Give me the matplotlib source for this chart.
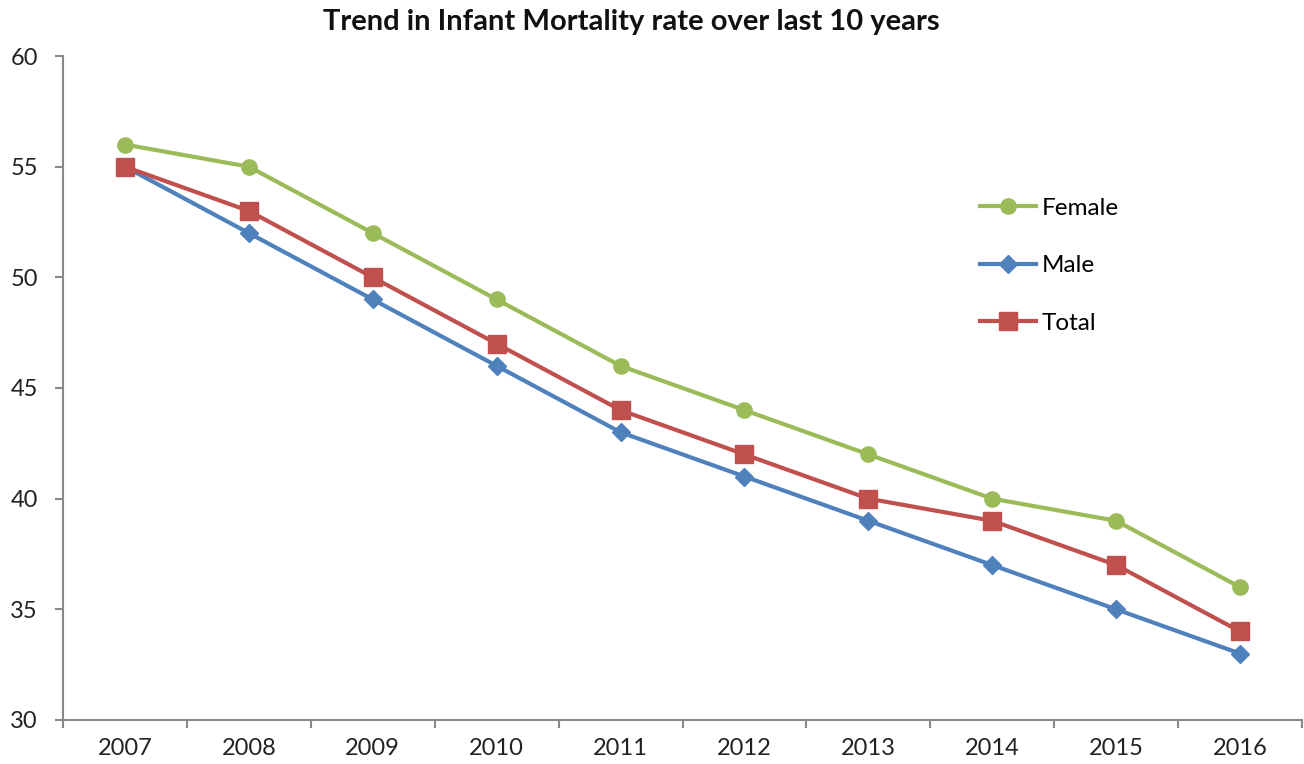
import matplotlib.pyplot as plt
import numpy as np
from matplotlib.ticker import FixedLocator

plt.rcParams['font.family'] = ['Lato', 'DejaVu Sans']

years = ['2007', '2008', '2009', '2010', '2011', '2012', '2013', '2014', '2015', '2016']
female = [56, 55, 52, 49, 46, 44, 42, 40, 39, 36]
male = [55, 52, 49, 46, 43, 41, 39, 37, 35, 33]
total = [55, 53, 50, 47, 44, 42, 40, 39, 37, 34]

x = np.arange(len(years))

fig = plt.figure(figsize=(13.04, 7.64), dpi=100)
ax = fig.add_axes([0.0483, 0.0576, 0.9502, 0.8691])

ax.plot(x, female, color='#9BBB59', lw=3, marker='o', markersize=11, label='Female')
ax.plot(x, male, color='#4F81BD', lw=3, marker='D', markersize=9, label='Male')
ax.plot(x, total, color='#C0504D', lw=3, marker='s', markersize=13, label='Total')

ax.set_xlim(-0.5, len(years) - 0.5)
ax.set_ylim(30, 60)
ax.set_yticks(range(30, 61, 5))
ax.set_xticks(x)
ax.set_xticklabels(years)
ax.xaxis.set_minor_locator(FixedLocator(np.arange(-0.5, len(years), 1)))

for s in ['top', 'right']:
    ax.spines[s].set_visible(False)
for s in ['left', 'bottom']:
    ax.spines[s].set_color('#898989')
    ax.spines[s].set_linewidth(1.5)

ax.tick_params(axis='x', which='major', length=0, pad=13, labelsize=17, colors='#222222')
ax.tick_params(axis='x', which='minor', length=6, width=1.5, color='#898989')
ax.tick_params(axis='y', length=6, width=1.5, color='#898989', pad=12, labelsize=17, labelcolor='#222222')

fig.suptitle('Trend in Infant Mortality rate over last 10 years', fontsize=21, fontweight='bold',
             x=0.484, y=0.988, va='top', color='#111111')

leg = ax.legend(loc='upper left', bbox_to_anchor=(0.7515, 0.741), bbox_transform=fig.transFigure,
                frameon=False, fontsize=17.5, handlelength=2.3, handletextpad=0.25, labelspacing=1.5,
                borderaxespad=0, borderpad=0)

fig.savefig('out.png', dpi=100)
